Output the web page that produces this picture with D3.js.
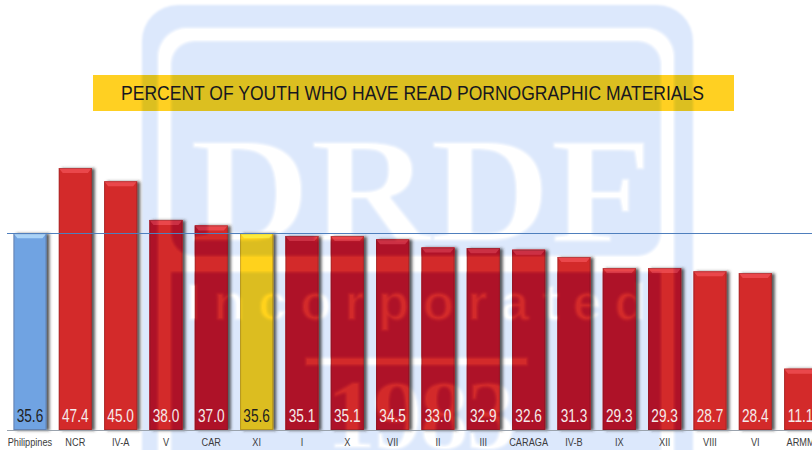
<!DOCTYPE html>
<html>
<head>
<meta charset="utf-8">
<script src="https://cdn.jsdelivr.net/npm/d3@7"></script>
<style>
    html, body { margin: 0; padding: 0; background: #ffffff; }
    svg { display: block; }
    text { font-family: "Liberation Sans", Arial, sans-serif; }
</style>
</head>
<body>
<div class="chart"></div>
<script>
var categories = ["Philippines", "NCR", "IV-A", "V", "CAR", "XI", "I", "X", "VII", "II", "III", "CARAGA", "IV-B", "IX", "XII", "VIII", "VI", "ARMM"];
var values = [35.6, 47.4, 45.0, 38.0, 37.0, 35.6, 35.1, 35.1, 34.5, 33.0, 32.9, 32.6, 31.3, 29.3, 29.3, 28.7, 28.4, 11.1];
var nationalValue = 35.6;
var titleText = "PERCENT OF YOUTH WHO HAVE READ PORNOGRAPHIC MATERIALS";

var width = 812;
var height = 450;
var baseline = 430;

//////// scales
var x = d3.scaleBand()
    .domain(categories)
    .range([7.3, 823.3])
    .paddingInner(0.27)
    .paddingOuter(0.135);

var y = d3.scaleLinear()
    .domain([0, 47.4])
    .range([baseline, 168]);

// create canvas
var svg = d3.select(".chart")
    .append("svg")
    .attr("width", width)
    .attr("height", height);

var defs = svg.append("defs");

defs.append("filter")
    .attr("id", "soft")
    .attr("x", "-5%").attr("y", "-5%").attr("width", "110%").attr("height", "110%")
    .append("feGaussianBlur")
    .attr("stdDeviation", 1);

var shadow = defs.append("filter")
    .attr("id", "bar-shadow")
    .attr("x", "-30%").attr("y", "-10%").attr("width", "160%").attr("height", "120%");
shadow.append("feDropShadow")
    .attr("dx", 3)
    .attr("dy", 0.5)
    .attr("stdDeviation", 1.5)
    .attr("flood-color", "#333333")
    .attr("flood-opacity", 0.8);

//////// watermark shape, white = logo blue, black = logo white
var mask = defs.append("mask")
    .attr("id", "logo")
    .attr("maskUnits", "userSpaceOnUse")
    .attr("x", 0).attr("y", 0)
    .attr("width", width).attr("height", height);

var maskGroup = mask.append("g").attr("filter", "url(#soft)");

maskGroup.append("rect")
    .attr("x", 142).attr("y", 5)
    .attr("width", 551).attr("height", 500)
    .attr("rx", 36)
    .attr("fill", "#fff");
maskGroup.append("rect")
    .attr("x", 157).attr("y", 27)
    .attr("width", 518).attr("height", 480)
    .attr("rx", 30)
    .attr("fill", "#000");
maskGroup.append("rect")
    .attr("x", 172).attr("y", 42)
    .attr("width", 488).attr("height", 213)
    .attr("rx", 22)
    .attr("fill", "#fff");
maskGroup.append("rect")
    .attr("x", 172).attr("y", 273)
    .attr("width", 488).attr("height", 200)
    .attr("fill", "#fff");

maskGroup.append("text")
    .attr("x", 190).attr("y", 241)
    .attr("textLength", 462)
    .attr("lengthAdjust", "spacingAndGlyphs")
    .style("font-family", "'Liberation Serif', serif")
    .attr("font-weight", "bold")
    .attr("font-size", 150)
    .attr("fill", "#000")
    .text("DRDF");
maskGroup.append("text")
    .attr("x", 186).attr("y", 320)
    .attr("textLength", 460)
    .attr("lengthAdjust", "spacing")
    .attr("font-weight", "bold")
    .attr("font-size", 52)
    .attr("fill", "#000")
    .text("Incorporated");
maskGroup.append("rect")
    .attr("x", 305).attr("y", 357)
    .attr("width", 223).attr("height", 9)
    .attr("fill", "#000");
maskGroup.append("text")
    .attr("x", 326).attr("y", 448)
    .attr("textLength", 190)
    .attr("lengthAdjust", "spacing")
    .style("font-family", "'Liberation Serif', serif")
    .attr("font-weight", "bold")
    .attr("font-size", 100)
    .attr("fill", "#000")
    .text("1983");

// the blue logo itself
svg.append("rect")
    .attr("width", width)
    .attr("height", height)
    .attr("fill", "#dce8fc")
    .attr("mask", "url(#logo)");

//////// bars, colours for the plain page and for where the logo shows through
function barColors(category) {
    if (category === "Philippines") {
        return { plain: "#70a3e2", over: "#70a3e2", top: "#a9d2f7", topOver: "#a9d2f7", text: "#222222" };
    }
    if (category === "XI") {
        return { plain: "#ffd21e", over: "#dcbd20", top: "#fdea3a", topOver: "#eedc3c", text: "#1e1e1e" };
    }
    return { plain: "#d32a2a", over: "#ae1228", top: "#ea474c", topOver: "#cb3044", text: "#f5eaea" };
}

function bevelPath(d) {
    var left = x(d.name);
    var right = left + x.bandwidth();
    var top = y(d.value);
    return "M " + left + " " + top + " L " + right + " " + top + " L " + (right - 4) + " " + (top + 5) + " L " + (left + 4) + " " + (top + 5) + " Z";
}

var barData = categories.map(function(name, i) {
    return { name: name, value: values[i] };
});

function drawBars(group, fillKey, topKey) {
    group.selectAll("rect.bar")
        .data(barData)
        .enter()
        .append("rect")
        .attr("class", "bar")
        .attr("x", function(d) { return x(d.name); })
        .attr("y", function(d) { return y(d.value); })
        .attr("width", x.bandwidth())
        .attr("height", function(d) { return baseline - y(d.value); })
        .attr("fill", function(d) { return barColors(d.name)[fillKey]; });

    group.selectAll("path.bevel")
        .data(barData)
        .enter()
        .append("path")
        .attr("class", "bevel")
        .attr("d", bevelPath)
        .attr("fill", function(d) { return barColors(d.name)[topKey]; });
}

var shadowLayer = svg.append("g").attr("filter", "url(#bar-shadow)");
drawBars(shadowLayer, "plain", "top");

var overLayer = svg.append("g").attr("mask", "url(#logo)");
drawBars(overLayer, "over", "topOver");

// darker bar edges
svg.append("g").selectAll("rect")
    .data(barData)
    .enter()
    .append("rect")
    .attr("x", function(d) { return x(d.name) + 0.5; })
    .attr("y", function(d) { return y(d.value) + 0.5; })
    .attr("width", x.bandwidth() - 1)
    .attr("height", function(d) { return baseline - y(d.value) - 1; })
    .attr("fill", "none")
    .attr("stroke", "#3a2020")
    .attr("stroke-opacity", 0.25);

//////// title banner
var titleLeft = 93;
var titleTop = 75;
svg.append("rect")
    .attr("x", titleLeft).attr("y", titleTop)
    .attr("width", 641).attr("height", 36)
    .attr("fill", "#ffd022");
svg.append("rect")
    .attr("x", titleLeft).attr("y", titleTop)
    .attr("width", 641).attr("height", 36)
    .attr("fill", "#dcbf20")
    .attr("mask", "url(#logo)");
svg.append("text")
    .attr("x", 121).attr("y", 100)
    .attr("textLength", 583)
    .attr("lengthAdjust", "spacingAndGlyphs")
    .attr("font-size", 20)
    .attr("fill", "#17171f")
    .text(titleText);

//////// axis
var axis = svg.append("g")
    .attr("transform", "translate(0," + baseline + ")")
    .call(d3.axisBottom(x).tickSize(0).tickPadding(6));
axis.select(".domain")
    .attr("stroke", "#9aa3ad")
    .attr("stroke-width", 1)
    .attr("d", "M 7 0.5 H " + width);
axis.selectAll("text")
    .attr("font-size", 11.5)
    .attr("fill", "#3c3c3c")
    .attr("dy", null)
    .attr("y", 16.5)
    .attr("transform", "scale(0.8,1)");

//////// value labels
svg.append("g").selectAll("text")
    .data(barData)
    .enter()
    .append("text")
    .attr("transform", function(d) {
        return "translate(" + (x(d.name) + x.bandwidth() / 2) + ",421.5) scale(0.78,1)";
    })
    .attr("text-anchor", "middle")
    .attr("font-size", 17.5)
    .attr("fill", function(d) { return barColors(d.name).text; })
    .text(function(d) { return d.value.toFixed(1); });

//////// national average line
svg.append("line")
    .attr("x1", 7)
    .attr("x2", width)
    .attr("y1", Math.round(y(nationalValue)) + 0.5)
    .attr("y2", Math.round(y(nationalValue)) + 0.5)
    .attr("stroke", "#4f7fbd")
    .attr("stroke-width", 1);
</script>
</body>
</html>
